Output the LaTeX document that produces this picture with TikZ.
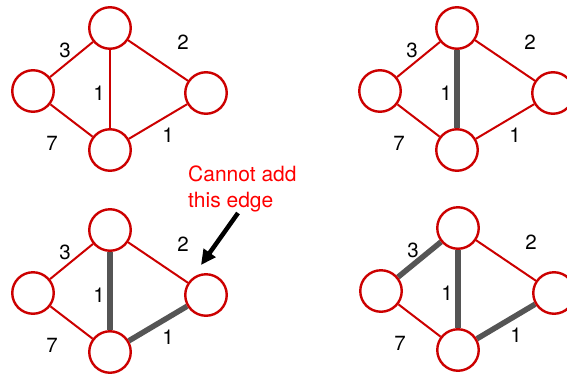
\documentclass[tikz,border=0pt]{standalone}
\usepackage{fontspec}
\setmainfont{TeX Gyre Heros}
\usetikzlibrary{arrows.meta,backgrounds}

\definecolor{edgered}{RGB}{204,0,0}
\definecolor{treegray}{RGB}{85,85,85}

\tikzset{
  vert/.style={circle, draw=edgered, line width=2.4pt, fill=white,
               minimum size=41.5pt, inner sep=0pt},
  plain/.style={draw=edgered, line width=2pt},
  tree/.style={draw=treegray, line width=5.5pt},
  wlabel/.style={font=\fontsize{20.5}{24}\selectfont, inner sep=0pt, text=black},
}

% One copy of the weighted graph; #1 = name suffix, #2 = shift,
% #3..#7 = styles of the edges l-t, t-r, t-b, l-b, b-r
\newcommand\weightedgraph[7]{%
  \begin{scope}[shift={#2}]
    \node[vert] (t#1) at (110,28) {};
    \node[vert] (l#1) at (33,91) {};
    \node[vert] (r#1) at (206,93) {};
    \node[vert] (b#1) at (110,150) {};
    \begin{pgfonlayer}{background}
      \draw[#3] (l#1) -- (t#1);
      \draw[#4] (t#1) -- (r#1);
      \draw[#5] (t#1) -- (b#1);
      \draw[#6] (l#1) -- (b#1);
      \draw[#7] (b#1) -- (r#1);
    \end{pgfonlayer}
    \node[wlabel] (wlt#1) at (65,50) {3};
    \node[wlabel] (wtr#1) at (183,42) {2};
    \node[wlabel] (wtb#1) at (99,93) {1};
    \node[wlabel] (wlb#1) at (52,143) {7};
    \node[wlabel] (wbr#1) at (168,135) {1};
  \end{scope}}

\begin{document}
\begin{tikzpicture}[x=1pt, y=-1pt]
  \useasboundingbox (0,0) rectangle (567,375);
  \clip (0,0) rectangle (567,375);

  \weightedgraph{a}{(0,0)}{plain}{plain}{plain}{plain}{plain}
  \weightedgraph{b}{(347,0)}{plain}{plain}{tree}{plain}{plain}
  \weightedgraph{c}{(0,202)}{plain}{plain}{tree}{plain}{tree}
  \weightedgraph{d}{(348,200)}{tree}{plain}{tree}{plain}{tree}

  % annotation pointing at the rejected edge
  \node[font=\fontsize{21}{25.5}\selectfont, text=red, align=left,
        anchor=north west, inner sep=0pt] (note) at (188,166)
        {Cannot add\\this edge};
  \coordinate (tail) at (238,213);
  \coordinate (tip) at (201,265);
  \draw[line width=4.5pt, -{Triangle[length=15pt,width=14pt]}] (tail) -- (tip);
\end{tikzpicture}
\end{document}
